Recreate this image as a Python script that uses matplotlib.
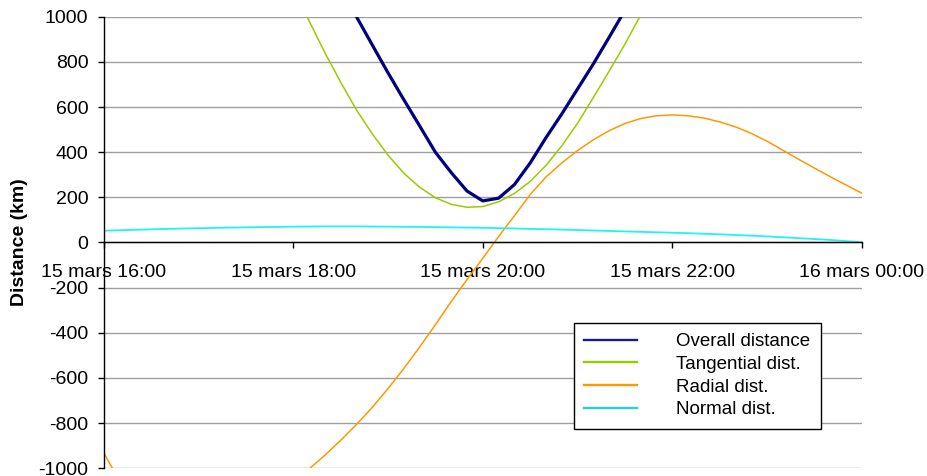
import numpy as np
import matplotlib
matplotlib.use("Agg")
import matplotlib.pyplot as plt
from matplotlib.lines import Line2D

plt.rcParams['font.family'] = ['Liberation Sans', 'DejaVu Sans']
plt.rcParams['axes.unicode_minus'] = False

# Sampling: every 10 minutes from 15 mars 16:00 to 16 mars 00:00
minutes = np.arange(0, 481, 10)
hours = minutes / 60.0

overall_dist = [3448, 3284, 3122, 2959, 2797, 2638, 2479, 2323, 2169, 2017, 1866, 1711,
                1555, 1405, 1264, 1128, 1001, 876, 752, 633, 517, 400, 310, 228,
                184, 196, 256, 352, 464, 569, 680, 791, 909, 1029, 1150, 1277,
                1408, 1545, 1688, 1834, 1987, 2145, 2309, 2479, 2656, 2839, 3029, 3225, 3427]
tangential_dist = [3320, 3110, 2905, 2705, 2510, 2320, 2135, 1955, 1780, 1610, 1445, 1285,
                   1130, 983, 842, 711, 588, 482, 387, 307, 245, 198, 169, 156,
                   159, 180, 217, 270, 341, 428, 528, 642, 759, 879, 1008, 1147,
                   1290, 1440, 1595, 1755, 1920, 2090, 2265, 2445, 2630, 2820, 3015, 3215, 3420]
radial_dist = [-930, -1055, -1145, -1200, -1235, -1255, -1260, -1255, -1240, -1215, -1180, -1130,
               -1068, -1004, -943, -877, -807, -731, -648, -559, -464, -365, -262, -165,
               -70, 26, 118, 212, 290, 352, 407, 455, 495, 527, 549, 561,
               565, 561, 551, 534, 512, 483, 448, 408, 368, 329, 291, 254, 218]
normal_dist = [52, 54, 56, 58, 60, 61.5, 63, 64.5, 66, 67, 68, 69,
               70, 70.5, 71, 71, 71, 70.5, 70, 69.5, 69, 68, 67, 66,
               65, 63.5, 62, 60, 58.5, 57, 55, 53, 51, 49, 47, 45,
               43, 41, 38.5, 36, 33, 30, 27, 23, 19, 15, 11, 6, 1]

series_names = ["Overall distance", "Tangential dist.", "Radial dist.", "Normal dist."]
series_colors = ["#000080", "#99cc00", "#ff9900", "#1ef4f4"]
legend_colors = ["#1a1a90", "#99cc00", "#ff9900", "#2ad0d0"]
series_widths = [2.3, 1.1, 1.1, 1.3]

tick_hours = [0, 2, 4, 6, 8]
tick_labels = ["15 mars 16:00", "15 mars 18:00", "15 mars 20:00",
               "15 mars 22:00", "16 mars 00:00"]
y_ticks = list(range(-1000, 1001, 200))

W, H = 927, 476
fig = plt.figure(figsize=(W / 100, H / 100), dpi=100)
left_px, right_px, top_px, bottom_px = 103.5, 862.0, 16.7, 468.2
ax = fig.add_axes([left_px / W, 1 - bottom_px / H,
                   (right_px - left_px) / W, (bottom_px - top_px) / H])

for vals, name, col, lw in zip([overall_dist, tangential_dist, radial_dist, normal_dist],
                               series_names, series_colors, series_widths):
    ax.plot(hours, vals, color=col, lw=lw, label=name, solid_joinstyle='round')

ax.set_xlim(0, 8)
ax.set_ylim(-1000, 1000)
ax.set_yticks(y_ticks)
ax.set_yticklabels([str(v) for v in y_ticks])
ax.set_xticks(tick_hours)
ax.set_xticklabels(tick_labels)

ax.yaxis.grid(True, color='#a0a0a0', lw=1.0)
ax.set_axisbelow(True)

for s in ['top', 'right']:
    ax.spines[s].set_visible(False)
ax.spines['bottom'].set_position(('data', 0))
for s in ['bottom', 'left']:
    ax.spines[s].set_color('#000000')
    ax.spines[s].set_linewidth(1.0)

ax.tick_params(axis='y', direction='out', length=4.3, width=1.0, pad=6.5,
               labelsize=14, colors='black')
ax.tick_params(axis='x', direction='out', length=4.3, width=1.0, pad=11,
               labelsize=14, colors='black')

ax.set_ylabel("Distance (km)", fontsize=14, fontweight='bold')
ax.yaxis.set_label_coords((28.5 - left_px) / (right_px - left_px), 0.5)

handles = [Line2D([], [], color=c, lw=1.7) for c in legend_colors]
leg = ax.legend(handles, series_names, loc='upper left',
                bbox_to_anchor=(574 / W, 1 - 322.7 / H), bbox_transform=fig.transFigure,
                fontsize=13.5, frameon=True, fancybox=False, borderaxespad=0,
                borderpad=0.55, handlelength=2.8, handletextpad=2.1,
                labelspacing=0.3, framealpha=1)
leg.get_frame().set_edgecolor('black')
leg.get_frame().set_linewidth(1.0)

fig.savefig("out.png", dpi=100)
